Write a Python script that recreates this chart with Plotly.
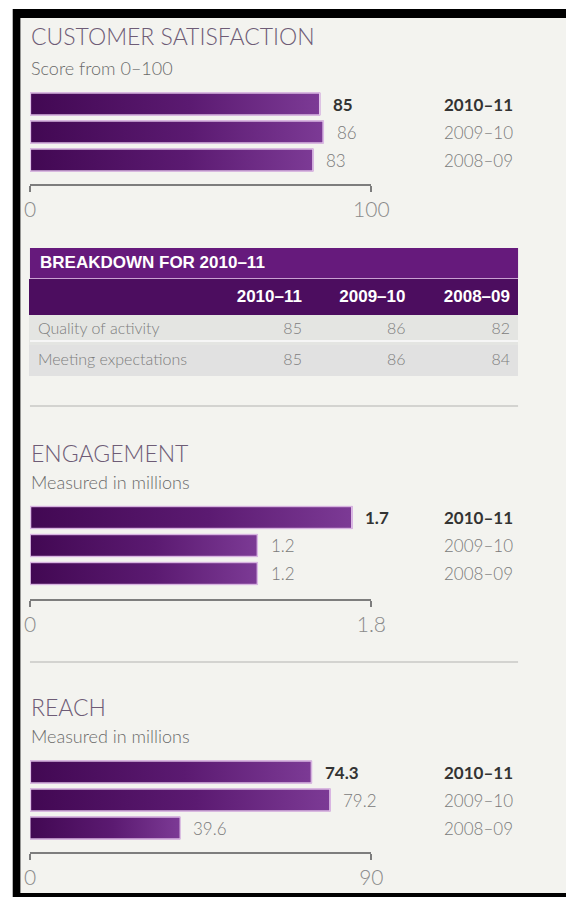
import base64
import plotly.graph_objects as go

W, H = 584, 897

# ---------------- data ----------------
years = ["2010–11", "2009–10", "2008–09"]

satisfaction = [85, 86, 83]
satisfaction_max = 100
engagement = [1.7, 1.2, 1.2]
engagement_max = 1.8
reach = [74.3, 79.2, 39.6]
reach_max = 90

sat_labels = ["85", "86", "83"]
eng_labels = ["1.7", "1.2", "1.2"]
reach_labels = ["74.3", "79.2", "39.6"]
axis_tick_text_sat = ["0", "100"]
axis_tick_text_eng = ["0", "1.8"]
axis_tick_text_reach = ["0", "90"]

table_rows = ["Quality of activity", "Meeting expectations"]
table_2010_11 = [85, 85]
table_2009_10 = [86, 86]
table_2008_09 = [82, 84]

# ---------------- helpers ----------------
def px(x):
    return x / W


def py(y):
    return 1 - y / H


LIGHT = "Lato"
BAR_COLOR = "#5a1870"
BAR_LINE = "#dcb7e6"
GRAY_TXT = "#7a7a7a"
DARK_TXT = "#333333"
TITLE_COL = "#6e5c76"
BAR_GAP = 0.2

# horizontal purple gradient used to shade each bar
_svg = (
    "<svg xmlns='http://www.w3.org/2000/svg' width='200' height='20' viewBox='0 0 200 20' "
    "preserveAspectRatio='none'><defs><linearGradient id='g' x1='0' x2='1' y1='0' y2='0'>"
    "<stop offset='0' stop-color='#420853'/><stop offset='0.55' stop-color='#5b1a71'/>"
    "<stop offset='1' stop-color='#7c3a95'/></linearGradient></defs>"
    "<rect x='0' y='0' width='200' height='20' fill='#e2c3ea'/>"
    "<rect x='0.8' y='0.8' width='198.4' height='18.4' fill='url(#g)'/></svg>"
)
GRADIENT_SRC = "data:image/svg+xml;base64," + base64.b64encode(_svg.encode()).decode()

fig = go.Figure()

panels = [
    dict(vals=satisfaction, vmax=satisfaction_max, labels=sat_labels, ticks=axis_tick_text_sat,
         top=90, bottom=174, axis_y=185, title="CUSTOMER SATISFACTION", sub="Score from 0–100",
         title_y=36, sub_y=68),
    dict(vals=engagement, vmax=engagement_max, labels=eng_labels, ticks=axis_tick_text_eng,
         top=503.5, bottom=587.5, axis_y=600, title="ENGAGEMENT", sub="Measured in millions",
         title_y=453, sub_y=482),
    dict(vals=reach, vmax=reach_max, labels=reach_labels, ticks=axis_tick_text_reach,
         top=758, bottom=842, axis_y=853, title="REACH", sub="Measured in millions",
         title_y=707, sub_y=736),
]

annotations = []
images = []
layout_axes = {}
for i, p in enumerate(panels, start=1):
    xa = "x" if i == 1 else f"x{i}"
    ya = "y" if i == 1 else f"y{i}"
    fig.add_trace(go.Bar(
        x=p["vals"], y=years, orientation="h",
        xaxis=xa, yaxis=ya,
        marker=dict(color=BAR_COLOR, line=dict(color=BAR_LINE, width=1)),
        showlegend=False, hoverinfo="skip",
    ))
    layout_axes["xaxis" if i == 1 else f"xaxis{i}"] = dict(
        domain=[px(25), px(381)], range=[0, p["vmax"]],
        anchor="free", position=py(p["axis_y"]),
        showline=True, linecolor="#7d7d7d", linewidth=1.5,
        ticks="outside", ticklen=6, tickwidth=1.5, tickcolor="#7d7d7d",
        tickvals=[0, p["vmax"]], ticktext=p["ticks"],
        tickfont=dict(family=LIGHT, size=21, color="#8a8a8a", weight=300),
        ticklabelstandoff=0,
        showgrid=False, zeroline=False, fixedrange=True,
    )
    layout_axes["yaxis" if i == 1 else f"yaxis{i}"] = dict(
        domain=[py(p["bottom"]), py(p["top"])],
        type="category", categoryorder="array", categoryarray=years,
        autorange="reversed", showticklabels=False, showgrid=False,
        zeroline=False, showline=False, anchor=xa, fixedrange=True,
    )
    for j, (v, lab, yr) in enumerate(zip(p["vals"], p["labels"], years)):
        # gradient shading laid over each bar, sized by the bar's own value
        images.append(dict(
            source=GRADIENT_SRC, xref=xa, yref=ya, x=0, y=j,
            sizex=v, sizey=1 - BAR_GAP, xanchor="left", yanchor="middle",
            sizing="stretch", layer="above",
        ))
        annotations.append(dict(
            x=v, y=yr, xref=xa, yref=ya, xanchor="left", yanchor="middle",
            xshift=11, showarrow=False,
            text=f"<b>{lab}</b>" if j == 0 else lab,
            font=dict(family=LIGHT, size=17, color=DARK_TXT if j == 0 else GRAY_TXT,
                      weight=700 if j == 0 else 300),
        ))
        annotations.append(dict(
            x=px(455), y=yr, xref="paper", yref=ya, xanchor="left", yanchor="middle",
            showarrow=False,
            text=f"<b>{yr}</b>" if j == 0 else yr,
            font=dict(family=LIGHT, size=17, color=DARK_TXT if j == 0 else GRAY_TXT,
                      weight=700 if j == 0 else 300),
        ))
    annotations.append(dict(
        x=px(24), y=py(p["title_y"]), xref="paper", yref="paper",
        xanchor="left", yanchor="middle", showarrow=False, text=p["title"],
        font=dict(family=LIGHT, size=23, color=TITLE_COL, weight=300),
    ))
    annotations.append(dict(
        x=px(24), y=py(p["sub_y"]), xref="paper", yref="paper",
        xanchor="left", yanchor="middle", showarrow=False, text=p["sub"],
        font=dict(family=LIGHT, size=18, color="#6a6a6a", weight=300),
    ))

# ---------------- table ----------------
HEADER_FILL = "#4c0d5f"
ROW_FILLS = ["#e4e5e2", "#e1e1e1"]
fig.add_trace(go.Table(
    domain=dict(x=[px(25), px(534)], y=[py(376), py(279)]),
    columnwidth=[184, 108, 108, 109],
    header=dict(
        values=["", "<b>2010–11</b>", "<b>2009–10</b>", "<b>2008–09</b>"],
        fill=dict(color=HEADER_FILL), line=dict(width=1, color=HEADER_FILL),
        font=dict(family="Liberation Sans", size=17, color="white"),
        align=["left", "right", "right", "right"], height=31,
    ),
    cells=dict(
        values=[table_rows, table_2010_11, table_2009_10, table_2008_09],
        fill=dict(color=[ROW_FILLS] * 4),
        line=dict(width=1, color=[ROW_FILLS] * 4),
        font=dict(family=LIGHT, size=16, color="#7d7d7d", weight=300),
        align=["left", "right", "right", "right"], height=31,
    ),
))

annotations.append(dict(
    x=px(33), y=py(263), xref="paper", yref="paper", xanchor="left", yanchor="middle",
    showarrow=False, text="<b>BREAKDOWN FOR 2010–11</b>",
    font=dict(family="Liberation Sans", size=17, color="white"),
))

shapes = [
    # frame
    dict(type="rect", xref="paper", yref="paper", x0=px(7), x1=1, y0=0, y1=py(9),
         fillcolor="black", line=dict(width=0), layer="below"),
    dict(type="rect", xref="paper", yref="paper", x0=px(15), x1=1, y0=py(893), y1=py(18),
         fillcolor="#f3f3ef", line=dict(width=0), layer="below"),
    # breakdown title bar
    dict(type="rect", xref="paper", yref="paper", x0=px(25), x1=px(534), y0=py(278), y1=py(248),
         fillcolor="#661a7c", line=dict(width=0), layer="below"),
    dict(type="line", xref="paper", yref="paper", x0=px(25), x1=px(534), y0=py(278.5), y1=py(278.5),
         line=dict(color="#c9a0d3", width=1), layer="above"),
    dict(type="line", xref="paper", yref="paper", x0=px(25), x1=px(534), y0=py(341), y1=py(341),
         line=dict(color="#f6f6f6", width=2), layer="above"),
    # separators
    dict(type="line", xref="paper", yref="paper", x0=px(25), x1=px(534), y0=py(406), y1=py(406),
         line=dict(color="#d3d3d0", width=2), layer="below"),
    dict(type="line", xref="paper", yref="paper", x0=px(25), x1=px(534), y0=py(662), y1=py(662),
         line=dict(color="#d3d3d0", width=2), layer="below"),
]

fig.update_layout(
    width=W, height=H, margin=dict(l=0, r=0, t=0, b=0),
    paper_bgcolor="white", plot_bgcolor="rgba(0,0,0,0)",
    bargap=BAR_GAP, showlegend=False,
    annotations=annotations, shapes=shapes, images=images,
    **layout_axes,
)

fig.write_html(
    "out.html",
    config={"displayModeBar": False},
    post_script="document.body.style.margin='0px';document.body.style.overflow='hidden';",
)
